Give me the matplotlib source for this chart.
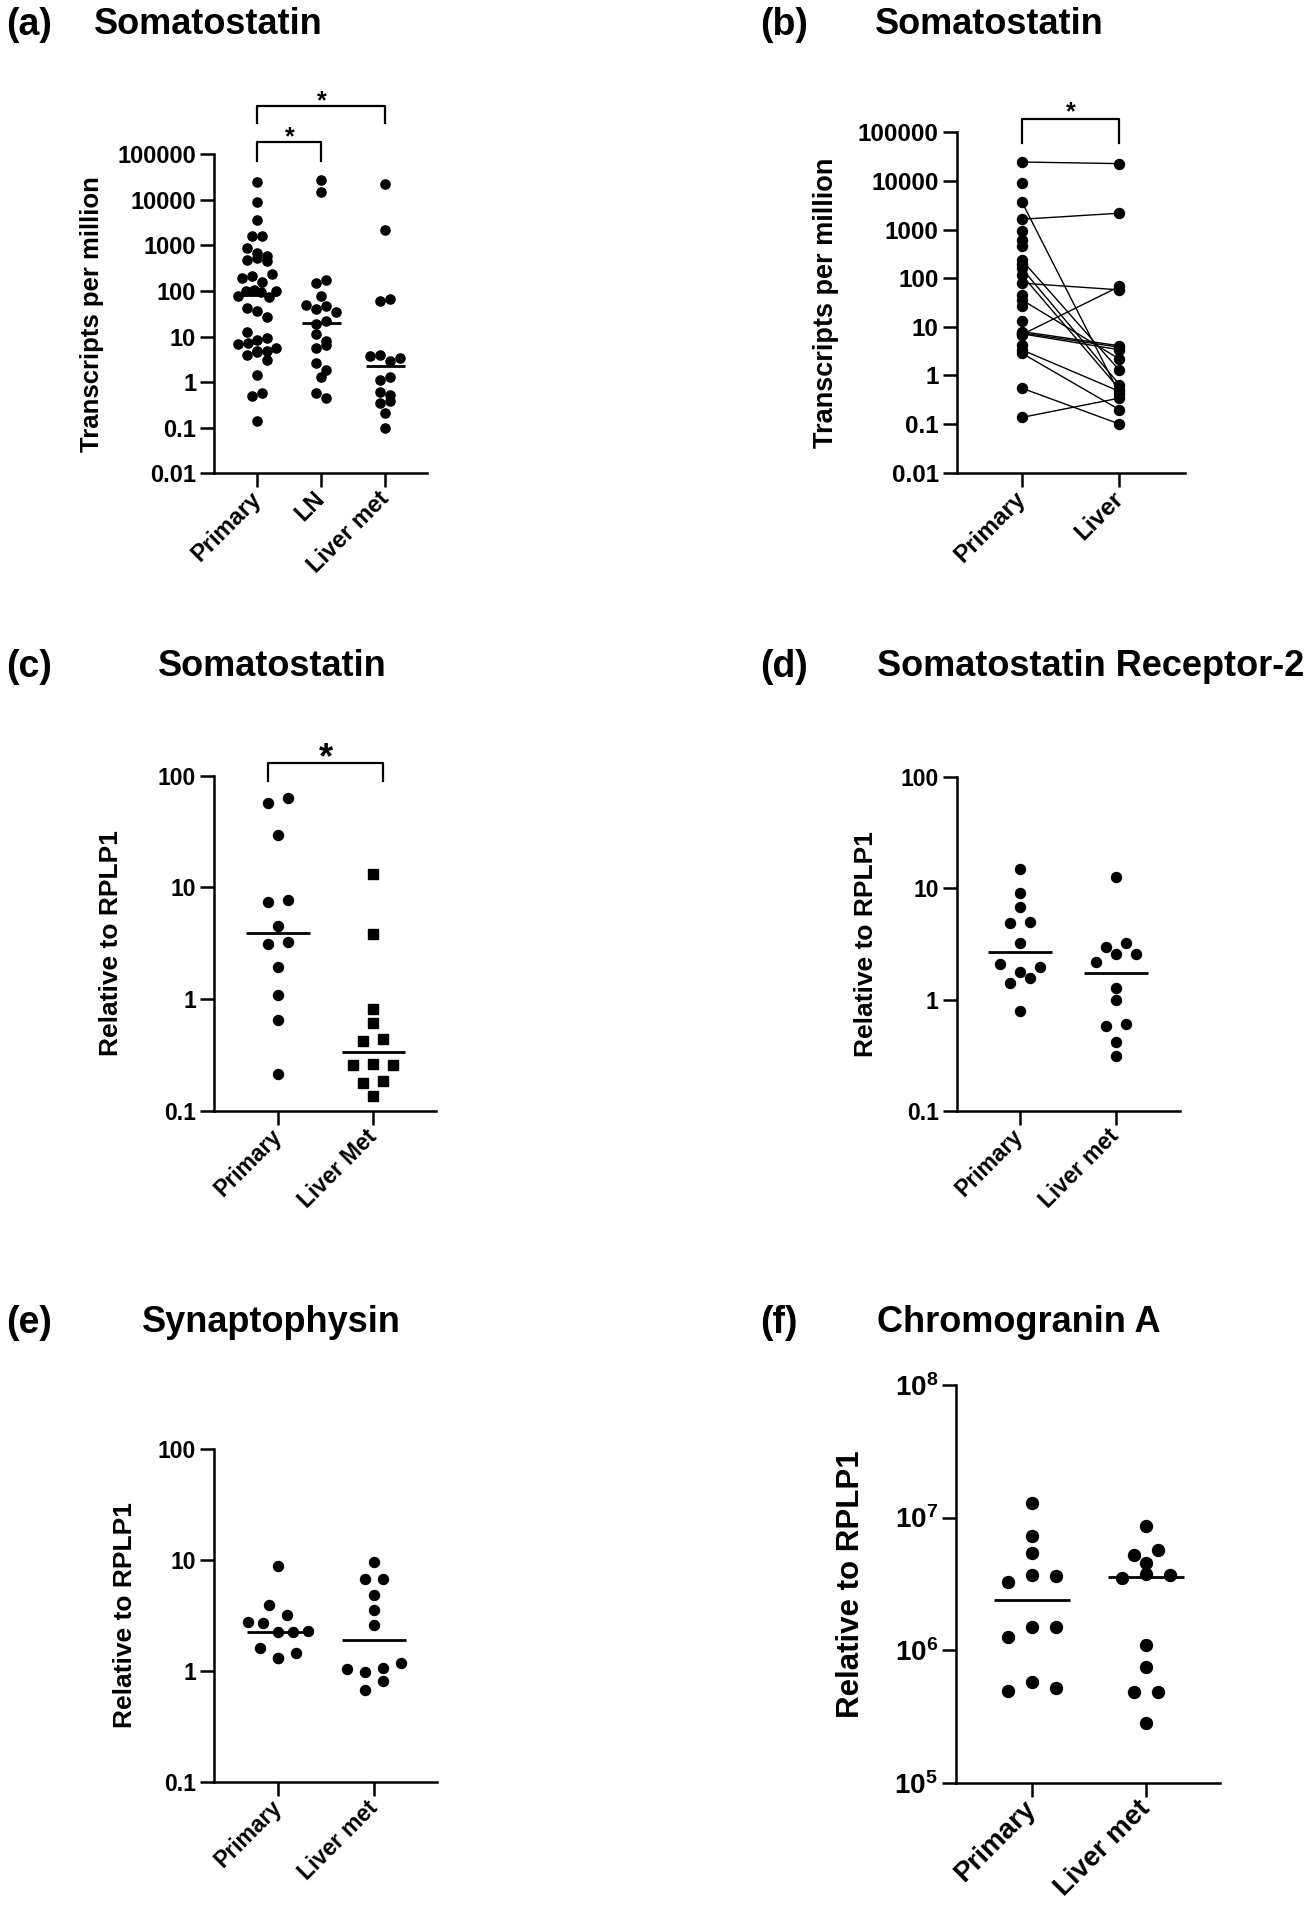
import numpy as np
import matplotlib
matplotlib.use("Agg")
import matplotlib.pyplot as plt
from matplotlib.ticker import FixedLocator, FuncFormatter, NullLocator
from matplotlib.transforms import blended_transform_factory

plt.rcParams['font.family'] = ['Liberation Sans', 'DejaVu Sans']
plt.rcParams['font.weight'] = 'bold'
plt.rcParams['mathtext.fontset'] = 'custom'
plt.rcParams['mathtext.rm'] = 'Liberation Sans'
plt.rcParams['mathtext.bf'] = 'Liberation Sans:bold'

# ---- data ----
# (a) somatostatin TPM, primary / lymph node / liver met
a_groups = ['Primary', 'LN', 'Liver met']
a_primary = [24400, 8900, 3650, 1600, 1600, 900, 478, 680, 528, 600, 447,
             193, 217, 157, 232, 79, 98, 107, 93.5, 74, 98, 42.5, 37, 27,
             12.6, 6.9, 8.6, 7.3, 9.5, 4.04, 4.9, 4.6, 4.9, 5.5, 3.03,
             1.4, 0.5, 0.565, 0.138]
a_ln = [27400, 15200, 150, 171, 79, 50, 40, 46, 34, 19.3, 21.7, 11.6, 7.9,
        5.5, 6.5, 2.65, 1.89, 1.31, 0.58, 0.447]
a_liver = [22400, 2200, 59, 67, 3.84, 3.98, 2.84, 3.47, 1.1, 1.29, 0.614,
           0.528, 0.352, 0.384, 0.206, 0.1]
a_medians = [83, 20, 2.24]
a_compare = [(0, 1), (0, 2)]

# (b) paired primary -> liver
b_groups = ['Primary', 'Liver']
b_primary_paired = [24500, 1630, 3760, 79, 6.9, 238, 160, 117, 36, 8.0, 7.5,
                    7.2, 3.37, 2.88, 0.55, 0.137]
b_liver_paired = [22700, 2170, 0.42, 57.6, 67.5, 1.27, 0.645, 0.525, 2.17,
                  4.07, 3.8, 3.37, 0.47, 0.197, 0.1, 0.342]
b_primary_unpaired = [8950, 940, 614, 462, 197, 44.8, 27.4, 12.9, 4.27]
b_compare = [(0, 1)]

# (c) somatostatin qPCR
c_groups = ['Primary', 'Liver Met']
c_primary = [57.3, 62.7, 29.2, 7.35, 7.66, 4.51, 3.11, 3.26, 1.95, 1.09,
             0.648, 0.211]
c_liver = [13.2, 3.82, 0.807, 0.605, 0.421, 0.435, 0.256, 0.262, 0.256,
           0.178, 0.186, 0.136]
c_medians = [3.9, 0.337]
c_compare = [(0, 1)]

# (d) SSTR2
d_groups = ['Primary', 'Liver met']
d_primary = [15.0, 9.17, 6.76, 4.85, 5.02, 3.25, 2.07, 1.76, 1.98, 1.42,
             1.55, 0.794]
d_liver = [12.8, 2.99, 3.25, 2.16, 2.55, 2.55, 1.26, 1.0, 0.582, 0.598,
           0.412, 0.31]
d_medians = [2.66, 1.72]

# (e) synaptophysin
e_groups = ['Primary', 'Liver met']
e_primary = [8.9, 3.91, 3.2, 2.78, 2.69, 2.26, 2.26, 2.29, 1.62, 1.31, 1.32,
             1.44]
e_liver = [9.53, 6.79, 6.79, 4.84, 3.52, 2.61, 1.035, 0.986, 1.057, 1.17,
           0.675, 0.818]
e_medians = [2.26, 1.9]

# (f) chromogranin A
f_groups = ['Primary', 'Liver met']
f_primary = [1.29e7, 7.26e6, 5.43e6, 3.25e6, 3.66e6, 3.62e6, 1.25e6, 1.50e6,
             1.49e6, 4.92e5, 5.78e5, 5.21e5]
f_liver = [8.69e6, 5.22e6, 5.69e6, 4.57e6, 3.48e6, 3.75e6, 3.69e6, 1.1e6,
           7.5e5, 4.86e5, 4.86e5, 2.84e5]
f_medians = [2.39e6, 3.58e6]

# ---- figure ----
W, H = 1314, 1920
fig = plt.figure(figsize=(W / 100, H / 100), dpi=100)
fig.patch.set_facecolor('white')


def px_rect(left, top, right, bottom):
    return [left / W, 1 - bottom / H, (right - left) / W, (bottom - top) / H]


def plain_fmt(v, pos):
    return ('%.6f' % v).rstrip('0').rstrip('.')


def pow_fmt(v, pos):
    return r'$\mathbf{10^{%d}}$' % round(np.log10(v))


def make_axes(rect, groups, ylim, xlim, tick_fs, xtick_fs, fmt=plain_fmt):
    ax = fig.add_axes(rect)
    ax.set_yscale('log')
    ax.set_ylim(ylim)
    ax.set_xlim(xlim)
    ax.set_xticks(range(len(groups)))
    ax.set_xticklabels(groups, rotation=45, ha='right', va='center',
                       rotation_mode='anchor', fontsize=xtick_fs)
    decades = 10.0 ** np.arange(round(np.log10(ylim[0])),
                                round(np.log10(ylim[1])) + 1)
    ax.yaxis.set_major_locator(FixedLocator(decades))
    ax.yaxis.set_minor_locator(NullLocator())
    ax.yaxis.set_major_formatter(FuncFormatter(fmt))
    for s in ['top', 'right']:
        ax.spines[s].set_visible(False)
    for s in ['left', 'bottom']:
        ax.spines[s].set_linewidth(1.8)
    ax.tick_params(width=1.8, length=10, labelsize=tick_fs, pad=3)
    ax.tick_params(axis='x', pad=6)
    return ax


def swarm_x(ax, x0, vals, row_px, step_px, max_half_px):
    # GraphPad-like scatter: points close in y share a row, spread evenly
    vals = np.asarray(vals, float)
    ypix = ax.transData.transform(np.column_stack([np.full(len(vals), x0), vals]))[:, 1]
    unit = ax.transData.transform([[1, 1]])[0, 0] - ax.transData.transform([[0, 1]])[0, 0]
    order = np.argsort(-vals, kind='stable')
    rows = []
    for i in order:
        if rows and ypix[rows[-1][0]] - ypix[i] < row_px:
            rows[-1].append(i)
        else:
            rows.append([i])
    xs = np.full(len(vals), float(x0))
    for row in rows:
        row = sorted(row)
        n = len(row)
        if n > 1:
            gap = min(step_px, 2 * max_half_px / (n - 1))
            for k, i in enumerate(row):
                xs[i] = x0 + (k - (n - 1) / 2) * gap / unit
    return xs


def dot_plot(ax, groups_vals, medians, ms, row_px, step_px, max_half_px,
             half_w, markers=None):
    for k, vals in enumerate(groups_vals):
        xs = swarm_x(ax, k, vals, row_px, step_px, max_half_px)
        m = 'o' if markers is None else markers[k]
        ax.plot(xs, vals, ls='none', marker=m, ms=ms, color='black',
                mec='black', clip_on=False, zorder=3)
        if medians is not None:
            ax.plot([k - half_w, k + half_w], [medians[k], medians[k]],
                    color='black', lw=2.0, solid_capstyle='butt', zorder=4)


def bracket(ax, i, j, y_top, y_stub, y_star, star_fs, ext=0.0):
    tr = blended_transform_factory(ax.transData, ax.transAxes)
    x1, x2 = i - ext, j + ext
    ax.plot([x1, x1, x2, x2], [y_stub, y_top, y_top, y_stub], transform=tr,
            color='black', lw=1.6, clip_on=False)
    ax.text((x1 + x2) / 2, y_star, '*', transform=tr, ha='center',
            va='center', fontsize=star_fs)


def panel_text(letter, title, x_letter, x_title, y):
    fig.text(x_letter / W, 1 - y / H, letter, ha='left', va='center',
             fontsize=27, fontweight='bold')
    fig.text(x_title / W, 1 - y / H, title, ha='left', va='center',
             fontsize=26, fontweight='bold')


def ylabel(text, x, ax, fs):
    pos = ax.get_position()
    fig.text(x / W, pos.y0 + pos.height / 2, text, rotation=90, ha='center',
             va='center', fontsize=fs, fontweight='bold')


# (a)
ax_a = make_axes(px_rect(214.3, 154.3, 427, 473.3), a_groups, (0.01, 1e5),
                 (-0.672, 2.65), 17, 17)
dot_plot(ax_a, [a_primary, a_ln, a_liver], a_medians, 6.6, 9, 10, 19, 0.3)
bracket(ax_a, *a_compare[1], 1.151, 1.098, 1.166, 18)
bracket(ax_a, *a_compare[0], 1.039, 0.979, 1.054, 18)
panel_text('(a)', 'Somatostatin', 6, 94, 25)
ylabel('Transcripts per million', 92, ax_a, 18.5)

# (b)
ax_b = make_axes(px_rect(956.7, 132.3, 1185, 472.7), b_groups, (0.01, 1e5),
                 (-0.665, 1.67), 17.5, 17.5)
for p, l in zip(b_primary_paired, b_liver_paired):
    ax_b.plot([0, 1], [p, l], color='black', lw=1.0, zorder=2)
b_primary_all = b_primary_paired + b_primary_unpaired
ax_b.plot(np.zeros(len(b_primary_all)), b_primary_all, ls='none', marker='o',
          ms=7.2, color='black', zorder=3, clip_on=False)
ax_b.plot(np.ones(len(b_liver_paired)), b_liver_paired, ls='none', marker='o',
          ms=7.2, color='black', zorder=3, clip_on=False)
bracket(ax_b, *b_compare[0], 1.039, 0.969, 1.058, 18)
panel_text('(b)', 'Somatostatin', 760, 875, 25)
ylabel('Transcripts per million', 826, ax_b, 19.5)

# (c)
ax_c = make_axes(px_rect(214.3, 775.7, 436, 1110.7), c_groups, (0.1, 100),
                 (-0.67, 1.66), 16.5, 17.5)
dot_plot(ax_c, [c_primary, c_liver], c_medians, 7.2, 10, 20, 32, 0.333,
         markers=['o', 's'])
bracket(ax_c, *c_compare[0], 1.039, 0.985, 1.05, 26, ext=0.105)
panel_text('(c)', 'Somatostatin', 6, 158, 667)
ylabel('Relative to RPLP1', 111, ax_c, 19)

# (d)
ax_d = make_axes(px_rect(956.7, 777.3, 1180, 1110.7), d_groups, (0.1, 100),
                 (-0.66, 1.67), 16.5, 17.5)
dot_plot(ax_d, [d_primary, d_liver], d_medians, 7.2, 10, 20, 32, 0.333)
panel_text('(d)', 'Somatostatin Receptor-2', 760, 877, 667)
ylabel('Relative to RPLP1', 866, ax_d, 19)

# (e)
ax_e = make_axes(px_rect(214.3, 1449, 437, 1782), e_groups, (0.1, 100),
                 (-0.67, 1.66), 16.5, 17.5)
dot_plot(ax_e, [e_primary, e_liver], e_medians, 7.2, 10, 18, 30, 0.333)
panel_text('(e)', 'Synaptophysin', 6, 142, 1323)
ylabel('Relative to RPLP1', 125, ax_e, 19)

# (f)
ax_f = make_axes(px_rect(956, 1385, 1220, 1782.7), f_groups, (1e5, 1e8),
                 (-0.67, 1.65), 20, 20.5, fmt=pow_fmt)
dot_plot(ax_f, [f_primary, f_liver], f_medians, 8.6, 11, 24, 40, 0.333)
panel_text('(f)', 'Chromogranin A', 760, 877, 1323)
ylabel('Relative to RPLP1', 851, ax_f, 22.5)

fig.savefig('out.png', dpi=100, facecolor='white')
